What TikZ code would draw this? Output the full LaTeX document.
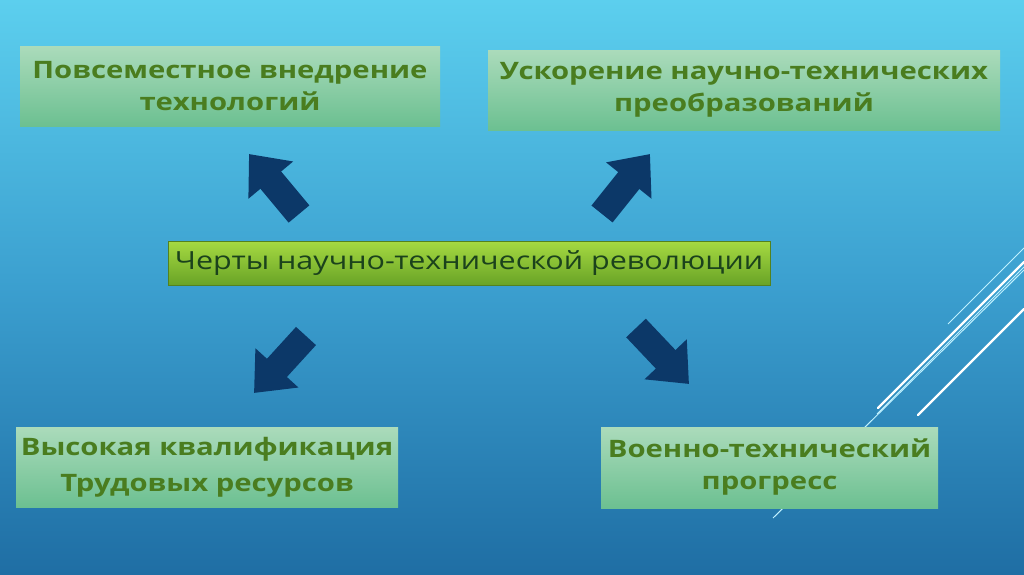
\documentclass[tikz,border=0pt]{standalone}
\usepackage{fontspec}
\setmainfont{Open Sans}
\newfontfamily\widefont[FakeStretch=1.22]{Open Sans}
\usetikzlibrary{arrows.meta}

\definecolor{bgtop}{HTML}{5CCFEE}
\definecolor{bgmid}{HTML}{3B9FCF}
\definecolor{bgbot}{HTML}{1F6EA4}
\definecolor{boxtop}{HTML}{ABDBBB}
\definecolor{boxbot}{HTML}{6CC091}
\definecolor{midtop}{HTML}{A6DA42}
\definecolor{midbot}{HTML}{69A326}
\definecolor{txtgreen}{HTML}{4A7D1F}
\definecolor{txtdark}{HTML}{1B421C}
\definecolor{arrowblue}{HTML}{0C3868}
\definecolor{linecyan}{HTML}{BFF1FF}

\tikzset{
    featbox/.style={top color=boxtop, bottom color=boxbot, align=center, inner sep=0pt,
        font=\widefont\fontsize{24}{32}\selectfont\bfseries, text=txtgreen},
    mainbox/.style={top color=midtop, bottom color=midbot, draw=midbot!80!black, line width=0.8pt,
        minimum width=602pt, minimum height=44pt, inner sep=0pt,
        font=\widefont\fontsize{25}{30}\selectfont, text=txtdark},
    bigarrow/.style={draw=arrowblue, line width=27pt, -{Triangle[length=34pt,width=56pt]}},
    deco/.style={draw=linecyan, line width=1pt},
    decothick/.style={draw=white, line width=2.2pt, line cap=round},
}

\begin{document}
\begin{tikzpicture}[x=1pt, y=-1pt]
    \useasboundingbox (0,0) rectangle (1024,574);
    % фон
    \shade[top color=bgtop, bottom color=bgbot, middle color=bgmid] (0,0) rectangle (1024,574);

    % декоративные линии справа
    \draw[deco] (948,324) -- (1024,248);
    \draw[decothick] (878,408) -- (1024,262);
    \draw[deco] (877,414) -- (1024,267);
    \draw[deco] (773,518) -- (1024,270);
    \draw[decothick] (918,415) -- (1024,309);

    % центральный блок
    \node[mainbox] (mid) at (469,263) {Черты научно-технической революции};

    % четыре признака
    \node[featbox, minimum width=420pt, minimum height=80pt] (tl) at (230,86)
        {Повсеместное внедрение\\технологий};
    \node[featbox, minimum width=512pt, minimum height=80pt] (tr) at (744,90)
        {Ускорение научно-технических\\преобразований};
    \node[featbox, minimum width=382pt, minimum height=80pt] (bl) at (207,467)
        {Высокая квалификация\\[4pt]Трудовых ресурсов};
    \node[featbox, minimum width=337pt, minimum height=81pt] (br) at (769.5,467.5)
        {Военно-технический\\прогресс};

    % стрелки
    \coordinate (tl-s) at (299,214);
    \coordinate (tl-e) at (249,154);
    \coordinate (tr-s) at (602,214);
    \coordinate (tr-e) at (650,154);
    \coordinate (bl-s) at (306,336);
    \coordinate (bl-e) at (254,393);
    \coordinate (br-s) at (636,328);
    \coordinate (br-e) at (689,384);
    \draw[bigarrow] (tl-s) -- (tl-e);
    \draw[bigarrow] (tr-s) -- (tr-e);
    \draw[bigarrow] (bl-s) -- (bl-e);
    \draw[bigarrow] (br-s) -- (br-e);
\end{tikzpicture}
\end{document}
